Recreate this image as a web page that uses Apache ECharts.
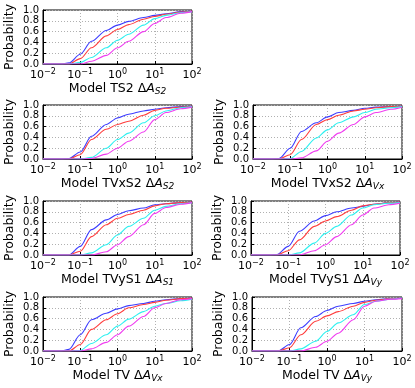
<!DOCTYPE html>
<html>
<head>
<meta charset="utf-8">
<script src="https://cdn.jsdelivr.net/npm/echarts@6/dist/echarts.min.js"></script>
<style>
  html, body { margin: 0; padding: 0; background: #fff; }
  #chart { width: 415px; height: 388px; }
</style>
</head>
<body>
<div id="chart"></div>
<script>
// sample points along the x axis (log scale)
var xs = [0.01, 0.03, 0.05, 0.1, 0.2, 0.5, 1, 2, 5, 10, 20, 50, 100];

// panel titles: [model name, subscript]
var panelNames = [
    ['Model TS2 ', 'S2'],
    ['Model TVxS2 ', 'S2'],
    ['Model TVxS2 ', 'Vx'],
    ['Model TVyS1 ', 'S1'],
    ['Model TVyS1 ', 'Vy'],
    ['Model TV ', 'Vx'],
    ['Model TV ', 'Vy']
];

// cumulative probability: blue, red, cyan, magenta
var ts2_S2_blue    = [0, 0, 0.02, 0.18, 0.42, 0.62, 0.72, 0.79, 0.86, 0.90, 0.93, 0.97, 0.98];
var ts2_S2_red     = [0, 0, 0, 0.10, 0.30, 0.52, 0.64, 0.73, 0.83, 0.88, 0.92, 0.96, 0.98];
var ts2_S2_cyan    = [0, 0, 0, 0.03, 0.12, 0.30, 0.44, 0.55, 0.72, 0.84, 0.90, 0.95, 0.97];
var ts2_S2_magenta = [0, 0, 0, 0, 0.05, 0.16, 0.30, 0.42, 0.60, 0.75, 0.86, 0.94, 0.97];

var tvxs2_S2_blue    = [0, 0, 0.01, 0.13, 0.42, 0.64, 0.76, 0.83, 0.89, 0.92, 0.95, 0.97, 0.98];
var tvxs2_S2_red     = [0, 0, 0, 0.08, 0.36, 0.55, 0.64, 0.70, 0.81, 0.90, 0.94, 0.96, 0.98];
var tvxs2_S2_cyan    = [0, 0, 0, 0, 0.03, 0.20, 0.36, 0.48, 0.67, 0.80, 0.89, 0.95, 0.97];
var tvxs2_S2_magenta = [0, 0, 0, 0, 0.01, 0.09, 0.20, 0.33, 0.50, 0.73, 0.86, 0.93, 0.96];

var tvxs2_Vx_blue    = [0, 0, 0.01, 0.20, 0.51, 0.67, 0.78, 0.86, 0.90, 0.94, 0.96, 0.97, 0.98];
var tvxs2_Vx_red     = [0, 0, 0, 0.08, 0.36, 0.64, 0.73, 0.81, 0.89, 0.92, 0.95, 0.97, 0.98];
var tvxs2_Vx_cyan    = [0, 0, 0, 0.01, 0.14, 0.39, 0.54, 0.67, 0.78, 0.86, 0.92, 0.95, 0.97];
var tvxs2_Vx_magenta = [0, 0, 0, 0, 0.02, 0.15, 0.33, 0.48, 0.64, 0.78, 0.86, 0.92, 0.96];

var tvys1_S1_blue    = [0, 0, 0, 0.16, 0.47, 0.65, 0.75, 0.82, 0.87, 0.93, 0.95, 0.97, 0.98];
var tvys1_S1_red     = [0, 0, 0, 0.07, 0.34, 0.56, 0.68, 0.75, 0.83, 0.91, 0.95, 0.97, 0.98];
var tvys1_S1_cyan    = [0, 0, 0, 0, 0.04, 0.19, 0.37, 0.53, 0.68, 0.83, 0.90, 0.95, 0.97];
var tvys1_S1_magenta = [0, 0, 0, 0, 0, 0.06, 0.19, 0.34, 0.56, 0.77, 0.88, 0.94, 0.97];

var tvys1_Vy_blue    = [0, 0, 0.01, 0.16, 0.44, 0.63, 0.73, 0.80, 0.87, 0.90, 0.94, 0.97, 0.98];
var tvys1_Vy_red     = [0, 0, 0, 0.08, 0.28, 0.53, 0.63, 0.71, 0.83, 0.91, 0.94, 0.97, 0.98];
var tvys1_Vy_cyan    = [0, 0, 0, 0, 0.04, 0.22, 0.40, 0.53, 0.74, 0.87, 0.93, 0.96, 0.97];
var tvys1_Vy_magenta = [0, 0, 0, 0, 0, 0.08, 0.19, 0.34, 0.56, 0.74, 0.87, 0.93, 0.96];

var tv_Vx_blue    = [0, 0, 0.03, 0.30, 0.58, 0.70, 0.78, 0.84, 0.88, 0.92, 0.95, 0.97, 0.98];
var tv_Vx_red     = [0, 0, 0, 0.12, 0.40, 0.58, 0.69, 0.80, 0.86, 0.90, 0.94, 0.97, 0.98];
var tv_Vx_cyan    = [0, 0, 0, 0.01, 0.14, 0.30, 0.46, 0.59, 0.73, 0.83, 0.88, 0.93, 0.96];
var tv_Vx_magenta = [0, 0, 0, 0, 0.04, 0.16, 0.30, 0.46, 0.64, 0.80, 0.88, 0.95, 0.97];

var tv_Vy_blue    = [0, 0, 0, 0.12, 0.43, 0.64, 0.75, 0.83, 0.88, 0.92, 0.95, 0.97, 0.98];
var tv_Vy_red     = [0, 0, 0, 0.06, 0.30, 0.55, 0.65, 0.73, 0.83, 0.90, 0.94, 0.97, 0.98];
var tv_Vy_cyan    = [0, 0, 0, 0, 0.04, 0.18, 0.36, 0.52, 0.67, 0.86, 0.92, 0.96, 0.98];
var tv_Vy_magenta = [0, 0, 0, 0, 0, 0.07, 0.18, 0.33, 0.58, 0.83, 0.92, 0.96, 0.97];

var panelData = [
    [ts2_S2_blue, ts2_S2_red, ts2_S2_cyan, ts2_S2_magenta],
    [tvxs2_S2_blue, tvxs2_S2_red, tvxs2_S2_cyan, tvxs2_S2_magenta],
    [tvxs2_Vx_blue, tvxs2_Vx_red, tvxs2_Vx_cyan, tvxs2_Vx_magenta],
    [tvys1_S1_blue, tvys1_S1_red, tvys1_S1_cyan, tvys1_S1_magenta],
    [tvys1_Vy_blue, tvys1_Vy_red, tvys1_Vy_cyan, tvys1_Vy_magenta],
    [tv_Vx_blue, tv_Vx_red, tv_Vx_cyan, tv_Vx_magenta],
    [tv_Vy_blue, tv_Vy_red, tv_Vy_cyan, tv_Vy_magenta]
];

var lineColors = ['#3d3dff', '#ff3d3d', '#2ef0f0', '#f03cf0'];

// plot rectangles [left, top, width, height]
var boxes = [
    [43, 10, 149, 54],
    [43, 105, 149, 54],
    [253, 105, 149, 54],
    [43, 201, 149, 54],
    [251, 201, 149, 54],
    [43, 297, 149, 54],
    [252, 297, 150, 54]
];

var chart = echarts.init(document.getElementById('chart'));
var font = 'DejaVu Sans';

var grids = [], xAxes = [], yAxes = [], series = [];
boxes.forEach(function (b, i) {
    grids.push({
        left: b[0], top: b[1], width: b[2], height: b[3],
        show: true, borderColor: '#000', borderWidth: 1, backgroundColor: '#fff'
    });
    xAxes.push({
        type: 'log', logBase: 10, gridIndex: i, min: 0.01, max: 100,
        name: '{n|' + panelNames[i][0] + 'Δ}{i|A}{sub|' + panelNames[i][1] + '}',
        nameLocation: 'middle', nameGap: 10,
        nameTextStyle: {
            rich: {
                n: {fontFamily: font, fontSize: 12.5, color: '#000'},
                i: {fontFamily: font, fontSize: 12.5, fontStyle: 'italic', color: '#000'},
                sub: {fontFamily: font, fontSize: 9, fontStyle: 'italic', color: '#000', padding: [6, 0, 0, 0]}
            }
        },
        axisLine: {show: true, lineStyle: {color: '#000', width: 1}},
        axisTick: {show: true, inside: true, length: 3, lineStyle: {color: '#000'}},
        splitLine: {show: true, lineStyle: {color: '#b0b0b0', type: [1, 2], width: 1}},
        axisLabel: {
            margin: 4, showMinLabel: true, showMaxLabel: true, hideOverlap: false,
            formatter: function (v) {
                var e = Math.round(Math.log10(v));
                return '{b|10}{s|' + (e < 0 ? '−' + (-e) : e) + '}';
            },
            rich: {
                b: {fontFamily: font, fontSize: 11, color: '#000'},
                s: {fontFamily: font, fontSize: 8, color: '#000', padding: [0, 0, 7, 0]}
            }
        }
    });
    yAxes.push({
        type: 'value', gridIndex: i, min: 0, max: 1, interval: 0.2,
        name: 'Probability', nameLocation: 'middle', nameGap: 27,
        nameTextStyle: {fontFamily: font, fontSize: 12.5, color: '#000'},
        axisLine: {show: true, lineStyle: {color: '#000', width: 1}},
        axisTick: {show: true, inside: true, length: 3, lineStyle: {color: '#000'}},
        splitLine: {show: true, lineStyle: {color: '#b0b0b0', type: [1, 2], width: 1}},
        axisLabel: {
            margin: 4, fontFamily: font, fontSize: 10, color: '#000',
            showMinLabel: true, showMaxLabel: true, hideOverlap: false, interval: 0,
            formatter: function (v) { return v.toFixed(1); }
        }
    });
    panelData[i].forEach(function (vals, k) {
        series.push({
            type: 'line', xAxisIndex: i, yAxisIndex: i,
            data: xs.map(function (x, j) { return [x, vals[j]]; }),
            showSymbol: false, smooth: 0.3, smoothMonotone: 'x',
            lineStyle: {color: lineColors[k], width: 1.1},
            itemStyle: {color: lineColors[k]}
        });
    });
});

chart.setOption({
    animation: false,
    grid: grids,
    xAxis: xAxes,
    yAxis: yAxes,
    series: series
});

window.onresize = chart.resize;
</script>
</body>
</html>
